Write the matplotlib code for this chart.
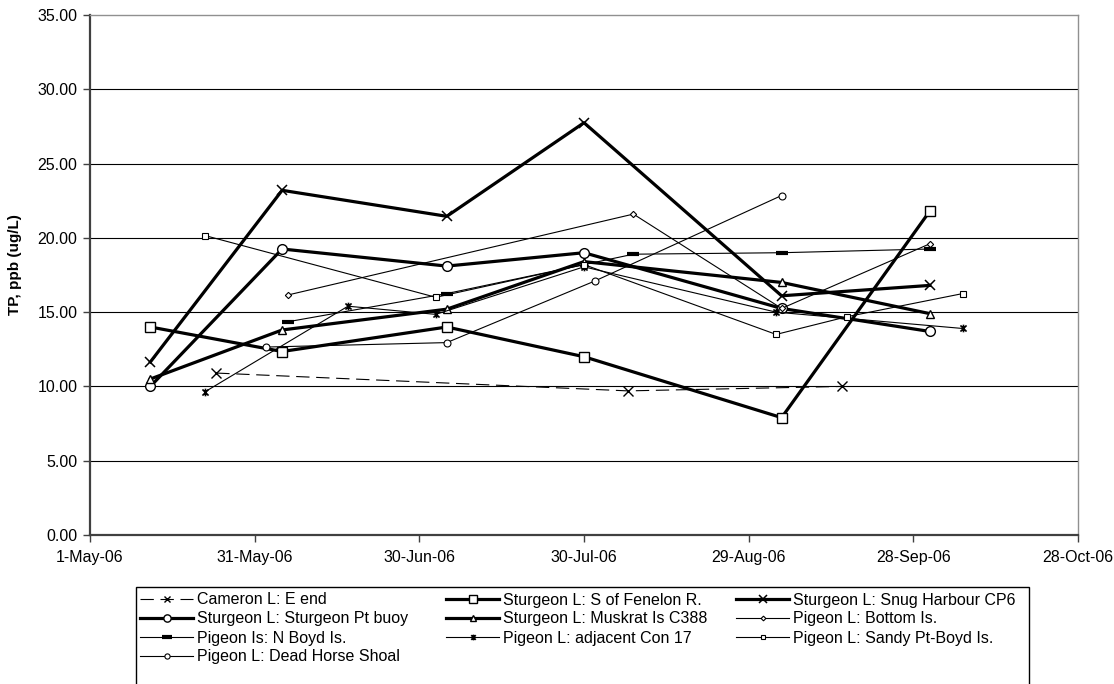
import matplotlib
matplotlib.use("Agg")
import matplotlib.pyplot as plt
from matplotlib.path import Path
from matplotlib.patches import Rectangle
from datetime import date

plt.rcParams['font.family'] = ['Liberation Sans', 'DejaVu Sans']

# ---------------- data ----------------
cameron_dates = [date(2006, 5, 24), date(2006, 8, 7), date(2006, 9, 15)]
cameron_vals = [10.9, 9.7, 10.0]

fenelon_dates = [date(2006, 5, 12), date(2006, 6, 5), date(2006, 7, 5), date(2006, 7, 30), date(2006, 9, 4), date(2006, 10, 1)]
fenelon_vals = [14.0, 12.35, 14.0, 12.0, 7.9, 21.8]

snug_dates = [date(2006, 5, 12), date(2006, 6, 5), date(2006, 7, 5), date(2006, 7, 30), date(2006, 9, 4), date(2006, 10, 1)]
snug_vals = [11.65, 23.2, 21.45, 27.75, 16.1, 16.8]

stpt_dates = [date(2006, 5, 12), date(2006, 6, 5), date(2006, 7, 5), date(2006, 7, 30), date(2006, 9, 4), date(2006, 10, 1)]
stpt_vals = [10.0, 19.25, 18.1, 19.0, 15.25, 13.7]

muskrat_dates = [date(2006, 5, 12), date(2006, 6, 5), date(2006, 7, 5), date(2006, 7, 30), date(2006, 9, 4), date(2006, 10, 1)]
muskrat_vals = [10.5, 13.8, 15.2, 18.4, 17.0, 14.9]

bottom_dates = [date(2006, 6, 6), date(2006, 8, 8), date(2006, 9, 4), date(2006, 10, 1)]
bottom_vals = [16.15, 21.6, 15.25, 19.6]

nboyd_dates = [date(2006, 6, 6), date(2006, 7, 5), date(2006, 8, 8), date(2006, 9, 4), date(2006, 10, 1)]
nboyd_vals = [14.35, 16.25, 18.9, 19.0, 19.25]

con17_dates = [date(2006, 5, 22), date(2006, 6, 17), date(2006, 7, 3), date(2006, 7, 30), date(2006, 9, 3), date(2006, 10, 7)]
con17_vals = [9.65, 15.4, 14.85, 18.05, 15.0, 13.9]

sandy_dates = [date(2006, 5, 22), date(2006, 7, 3), date(2006, 7, 30), date(2006, 9, 3), date(2006, 9, 16), date(2006, 10, 7)]
sandy_vals = [20.15, 16.0, 18.2, 13.5, 14.7, 16.25]

deadhorse_dates = [date(2006, 6, 2), date(2006, 7, 5), date(2006, 8, 1), date(2006, 9, 4)]
deadhorse_vals = [12.65, 12.95, 17.1, 22.85]

series_labels = [
    "Cameron L: E end",
    "Sturgeon L: S of Fenelon R.",
    "Sturgeon L: Snug Harbour CP6",
    "Sturgeon L: Sturgeon Pt buoy",
    "Sturgeon L: Muskrat Is C388",
    "Pigeon L: Bottom Is.",
    "Pigeon Is: N Boyd Is.",
    "Pigeon L: adjacent Con 17",
    "Pigeon L: Sandy Pt-Boyd Is.",
    "Pigeon L: Dead Horse Shoal",
]

x_tick_dates = [date(2006, 5, 1), date(2006, 5, 31), date(2006, 6, 30), date(2006, 7, 30),
                date(2006, 8, 29), date(2006, 9, 28), date(2006, 10, 28)]
y_ticks = [0, 5, 10, 15, 20, 25, 30, 35]
y_label = "TP, ppb (ug/L)"

# ---------------- figure ----------------
W, H = 1114, 684
fig = plt.figure(figsize=(W / 100, H / 100), dpi=100)
ax = fig.add_axes([90 / W, 1 - 535 / H, (1078 - 90) / W, (535 - 15) / H])

FS = 11.5
thin = 0.8
thick = 2.3

star = Path([(-1, -1), (1, 1), (-1, 1), (1, -1), (0, -1.25), (0, 1.25)],
            [Path.MOVETO, Path.LINETO, Path.MOVETO, Path.LINETO, Path.MOVETO, Path.LINETO])

styles = [
    dict(lw=thin, ls=(0, (12, 6)), marker='x', ms=6.5, mew=1.0),
    dict(lw=thick, ls='-', marker='s', ms=7, mfc='white', mew=1.0),
    dict(lw=thick, ls='-', marker='x', ms=7, mew=1.1),
    dict(lw=thick, ls='-', marker='o', ms=7, mfc='white', mew=1.0),
    dict(lw=thick, ls='-', marker='^', ms=6, mfc='white', mew=1.0),
    dict(lw=thin, ls='-', marker='D', ms=3.2, mfc='white', mew=0.8),
    dict(lw=thin, ls='-', marker='_', ms=9, mew=3.0),
    dict(lw=thin, ls='-', marker=star, ms=5.5, mew=1.2),
    dict(lw=thin, ls='-', marker='s', ms=4, mfc='white', mew=0.8),
    dict(lw=thin, ls='-', marker='o', ms=5, mfc='white', mew=0.8),
]

data = [
    (cameron_dates, cameron_vals),
    (fenelon_dates, fenelon_vals),
    (snug_dates, snug_vals),
    (stpt_dates, stpt_vals),
    (muskrat_dates, muskrat_vals),
    (bottom_dates, bottom_vals),
    (nboyd_dates, nboyd_vals),
    (con17_dates, con17_vals),
    (sandy_dates, sandy_vals),
    (deadhorse_dates, deadhorse_vals),
]

handles = []
for (d, v), st, lab in zip(data, styles, series_labels):
    h, = ax.plot(d, v, color='black', mec='black', label=lab, clip_on=False, **st)
    handles.append(h)

# axes styling
ax.set_xlim(x_tick_dates[0], x_tick_dates[-1])
ax.set_ylim(0, 35)
ax.set_yticks(y_ticks)
ax.set_yticklabels([f"{t:.2f}" for t in y_ticks])
ax.set_xticks(x_tick_dates)
ax.set_xticklabels([f"{t.day}-{t.strftime('%b-%y')}" for t in x_tick_dates])
ax.tick_params(axis='both', labelsize=FS, direction='out', length=5, width=1, color='#404040', pad=4)
ax.tick_params(axis='x', pad=6)
ax.set_ylabel(y_label, fontsize=FS - 0.5, fontweight='bold')
ax.yaxis.set_label_coords(-(90 - 22) / 988, 0.52)

for yv in y_ticks[1:-1]:
    ax.axhline(yv, color='black', lw=0.8, zorder=0)

ax.spines['left'].set_color('#404040')
ax.spines['left'].set_linewidth(1.6)
ax.spines['bottom'].set_color('#404040')
ax.spines['bottom'].set_linewidth(1.6)
ax.spines['top'].set_color('#909090')
ax.spines['top'].set_linewidth(1.0)
ax.spines['right'].set_color('#909090')
ax.spines['right'].set_linewidth(1.0)

# legend frame
fig.patches.append(Rectangle((136 / W, -0.05), (1029 - 136) / W, (684 - 587) / H + 0.05,
                             transform=fig.transFigure, fill=False, edgecolor='black', lw=1.0))

text_x = [197, 503, 793]
row_y = [600, 619, 638, 657]
handle_px = 53
pad_px = 4
fs_px = FS * 100 / 72
for i, (h, lab) in enumerate(zip(handles, series_labels)):
    r, c = divmod(i, 3)
    x0 = text_x[c] - handle_px - pad_px
    fig.legend(handles=[h], labels=[lab], loc='center left',
               bbox_to_anchor=(x0 / W, 1 - row_y[r] / H),
               frameon=False, borderpad=0, borderaxespad=0,
               handlelength=handle_px / fs_px, handletextpad=pad_px / fs_px,
               fontsize=FS, markerscale=0.75)

fig.savefig("out.png", dpi=100)
